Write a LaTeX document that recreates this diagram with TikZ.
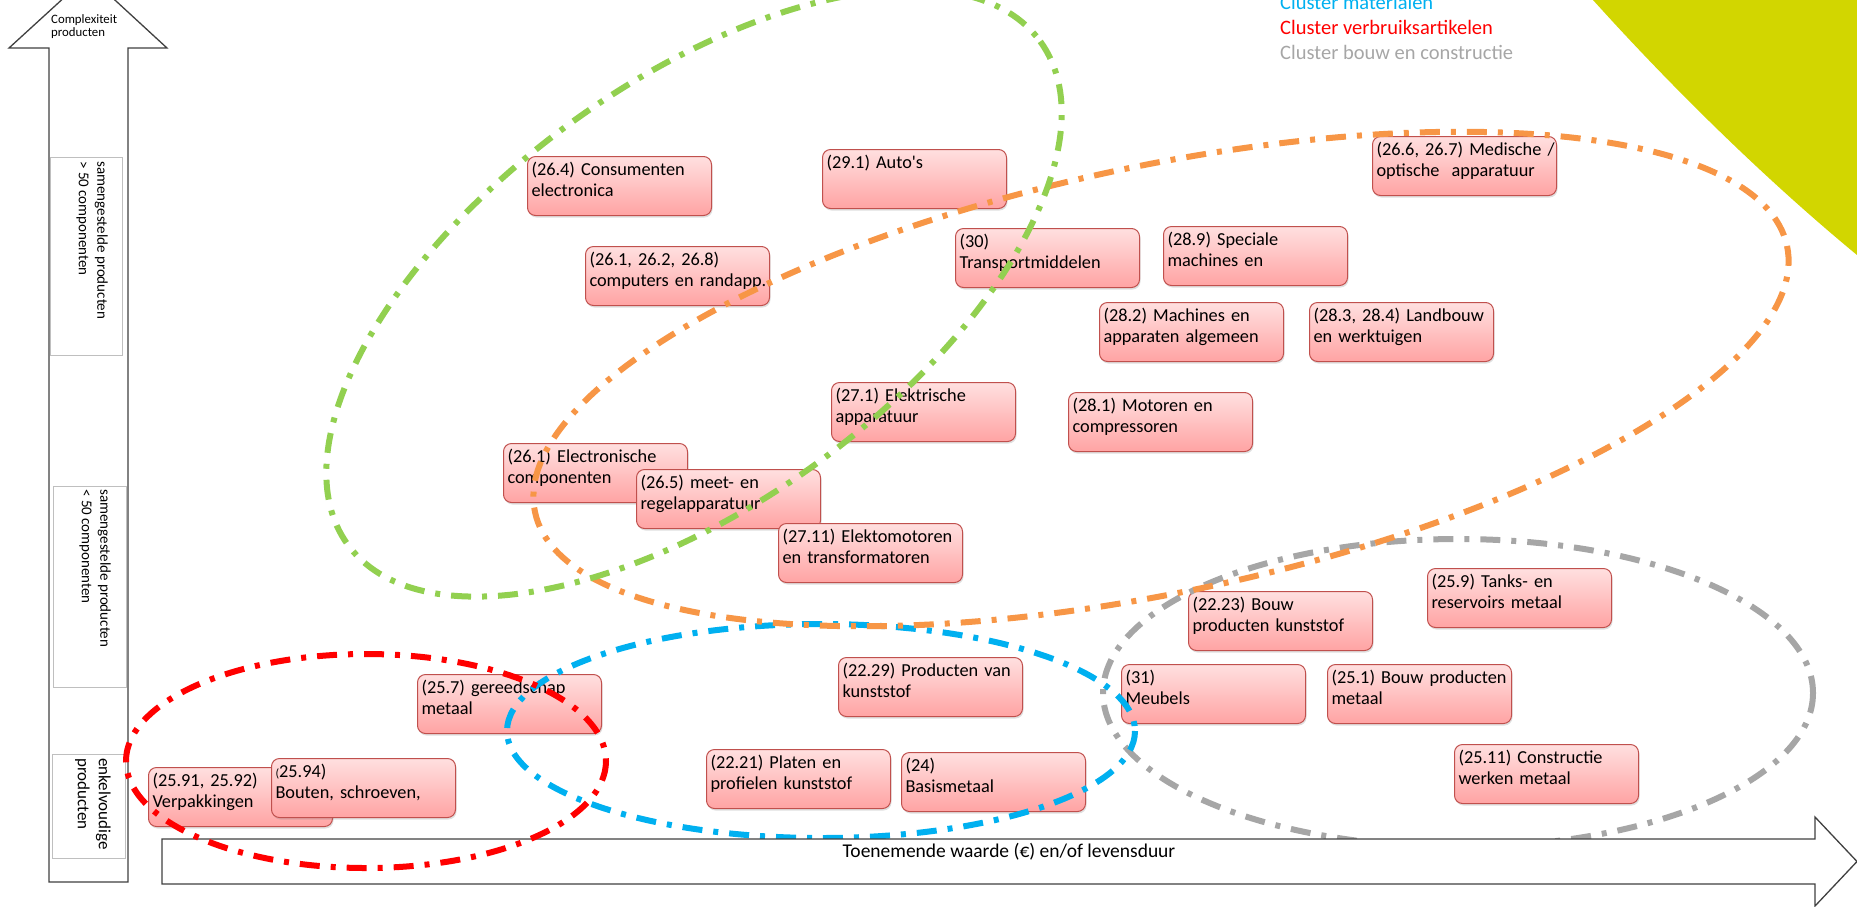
\documentclass[tikz,border=0pt]{standalone}
\usepackage{fontspec}
\setmainfont{Carlito}
\usetikzlibrary{shadows}
\definecolor{boxline}{RGB}{192,80,77}
\definecolor{boxtop}{RGB}{255,224,224}
\definecolor{boxbot}{RGB}{255,163,163}
\definecolor{clgreen}{RGB}{146,208,80}
\definecolor{clorange}{RGB}{247,150,70}
\definecolor{clblue}{RGB}{0,176,240}
\definecolor{clred}{RGB}{255,0,0}
\definecolor{clgray}{RGB}{166,166,166}
\definecolor{cornerlime}{RGB}{210,214,0}
\definecolor{axisline}{RGB}{64,64,64}

\begin{document}
\begin{tikzpicture}[x=1pt, y=-1pt,
		sector/.style={draw=boxline, line width=1pt, rounded corners=8pt, top color=boxtop, bottom color=boxbot,
			drop shadow={shadow xshift=1pt, shadow yshift=-2pt, opacity=0.25},
			anchor=north west, text width=176pt, inner xsep=4pt, inner ysep=3pt, align=left,
			text height=16pt, text depth=37pt, font=\fontsize{18.3}{20.5}\selectfont},
		cluster/.style={line width=6pt, dash pattern=on 20pt off 11pt on 5pt off 11pt},
		band/.style={draw=black!25, line width=1pt, fill=white},
		bandtext/.style={rotate=-90, anchor=north west, align=left, inner sep=0pt},
		legend/.style={anchor=base west, inner sep=0pt, font=\fontsize{20.5}{24}\selectfont}]
			\useasboundingbox (0,0) rectangle (1857,906);
			\clip (0,0) rectangle (1857,906);
			\fill[cornerlime] (1593,0) .. controls (1665,80) and (1760,175) .. (1857,255) -- (1857,0) -- cycle;

			\draw[axisline, line width=1.3pt, fill=white] (49,882) -- (49,48) -- (9,48) -- (88.3,-24.5) -- (167,48) -- (128,48) -- (128,882) -- cycle;
			\node[anchor=north west, align=left, inner sep=0pt, font=\fontsize{12.8}{13.8}\selectfont] (cplxlabel) at (51,14) {Complexiteit\\producten};

			\draw[band] (50,157) rectangle (122,355);
			\draw[band] (53,486) rectangle (126,687);
			\draw[band] (52,754) rectangle (125,858);
			\node[bandtext, font=\fontsize{15}{18.5}\selectfont] (bandhigh) at (108,161) {samengestelde producten\\> 50 componenten};
			\node[bandtext, font=\fontsize{15}{18.5}\selectfont] (bandmid) at (111,489) {samengestelde producten\\< 50 componenten};
			\node[bandtext, font=\fontsize{17}{21}\selectfont] (bandlow) at (111,758) {enkelvoudige\\producten};

			\foreach \nm/\px/\py/\la/\lb in {
				n264/527/156/{(26.4) Consumenten}/{electronica},
				n291/822/149/{(29.1) Auto\textquotesingle s}/{},
				n2612/585/246/{(26.1, 26.2, 26.8)}/{computers en randapp.},
				n30/955/228/{(30)}/{Transportmiddelen},
				n289/1163/226/{(28.9) Speciale}/{machines en},
				n266/1372/136/{(26.6, 26.7) Medische /}/{optische\ \ apparatuur},
				n282/1099/302/{(28.2) Machines en}/{apparaten algemeen},
				n283/1309/302/{(28.3, 28.4) Landbouw}/{en werktuigen},
				n271/831/382/{(27.1) Elektrische}/{apparatuur},
				n281/1068/392/{(28.1) Motoren en}/{compressoren},
				n261/503/443/{(26.1) Electronische}/{componenten},
				n265/636/469/{(26.5) meet- en}/{regelapparatuur},
				n2711/778/523/{(27.11) Elektomotoren}/{en transformatoren},
				n259/1427/568/{(25.9) Tanks- en}/{reservoirs metaal},
				n2223/1188/591/{(22.23) Bouw}/{producten kunststof},
				n257/417/674/{(25.7) gereedschap}/{metaal},
				n2229/838/657/{(22.29) Producten van}/{kunststof},
				n31/1121/664/{(31)}/{Meubels},
				n251/1327/664/{(25.1) Bouw producten}/{metaal},
				n2511/1454/744/{(25.11) Constructie}/{werken metaal},
				n2221/706/749/{(22.21) Platen en}/{profielen kunststof},
				n24/901/752/{(24)}/{Basismetaal},
				n2591/148/767/{(25.91, 25.92)}/{Verpakkingen},
				n2594/271/758/{{\fontsize{12}{12}\selectfont(}25.94)}/{Bouten, schroeven,}
			}
			{
				\node[sector] (\nm) at (\px,\py) {\mbox{\la}\\\mbox{\lb}};
			}

			\draw[cluster, clgray] (1458,693) ellipse [x radius=355, y radius=154];
			\draw[cluster, clblue] (821,731) ellipse [x radius=314, y radius=107];
			\draw[cluster, clorange, rotate around={12:(1161,379)}] (1161,379) ellipse [x radius=640, y radius=213];
			\draw[cluster, clgreen, rotate around={36:(694,293)}] (694,293) ellipse [x radius=428, y radius=210];

			\draw[axisline, line width=1.3pt, fill=white] (162,839) -- (1815,839) -- (1815,817) -- (1857,861.5) -- (1815,906) -- (1815,884) -- (162,884) -- cycle;
			\node[anchor=base, inner sep=0pt, font=\fontsize{19.5}{21}\selectfont] (valaxis) at (1009,857) {Toenemende waarde (€) en/of levensduur};

			\draw[cluster, clred] (366,761) ellipse [x radius=240, y radius=107];

			\node[legend, clblue] (lgmat) at (1280,9) {Cluster materialen};
			\node[legend, clred] (lgcons) at (1280,34) {Cluster verbruiksartikelen};
			\node[legend, clgray] (lgbuild) at (1280,59) {Cluster bouw en constructie};
		\end{tikzpicture}
\end{document}
